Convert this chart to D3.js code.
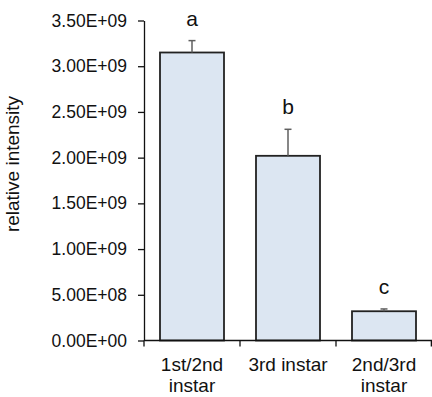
<!DOCTYPE html>
<html>
<head>
<meta charset="utf-8">
<script src="https://cdn.jsdelivr.net/npm/d3@7"></script>
<style>
  html, body { margin: 0; padding: 0; background: #fff; }
  svg { display: block; font-family: "Liberation Sans", Arial, Helvetica, sans-serif; }
</style>
</head>
<body>
<svg id="chart" width="432" height="397"></svg>
<script>
// Instar groups (two-line labels), mean relative intensity, upper error, significance letters
const groups = ["1st/2nd\ninstar", "3rd instar", "2nd/3rd\ninstar"];
const means = [3.15e9, 2.02e9, 0.32e9];
const errors = [0.13e9, 0.29e9, 0.025e9];
const letters = ["a", "b", "c"];
const yTicks = [0, 0.5e9, 1.0e9, 1.5e9, 2.0e9, 2.5e9, 3.0e9, 3.5e9];

const svg = d3.select("#chart");
const plotL = 144, plotR = 432, plotT = 20.5, plotB = 340.5;

const x = d3.scaleBand()
  .domain(groups)
  .range([plotL, plotR])
  .paddingInner(1 / 3)
  .paddingOuter(1 / 6);

const y = d3.scaleLinear()
  .domain([0, 3.5e9])
  .range([plotB, plotT]);

// Excel-style scientific notation, e.g. 3.50E+09
const sci = v => {
  const [m, e] = d3.format(".2e")(v).split("e");
  const sign = e[0] === "-" ? "-" : "+";
  const digits = e.replace(/[+-]/, "").padStart(2, "0");
  return `${m}E${sign}${digits}`;
};

// Y axis
const yAxis = svg.append("g")
  .attr("transform", `translate(${plotL},0)`)
  .call(d3.axisLeft(y).tickValues(yTicks).tickFormat(sci).tickSize(6).tickPadding(11).tickSizeOuter(0));
yAxis.select(".domain").attr("stroke", "#111").attr("stroke-width", 1.3);
yAxis.selectAll(".tick line").attr("stroke", "#111").attr("stroke-width", 1.3);
yAxis.selectAll(".tick text")
  .attr("fill", "#111")
  .style("font-size", "17.5px")
  .style("font-family", "'Liberation Sans', Arial, sans-serif");

// Y axis title
svg.append("text")
  .attr("transform", `translate(19,164) rotate(-90)`)
  .attr("text-anchor", "middle")
  .attr("fill", "#111")
  .style("font-size", "19px")
  .text("relative intensity");

// Bars
svg.append("g").selectAll("rect")
  .data(groups)
  .join("rect")
  .attr("x", d => x(d))
  .attr("y", (d, i) => y(means[i]))
  .attr("width", x.bandwidth())
  .attr("height", (d, i) => y(0) - y(means[i]))
  .attr("fill", "#DCE6F2")
  .attr("stroke", "#222")
  .attr("stroke-width", 1.8);

// Upper error whiskers with caps
const err = svg.append("g").attr("stroke", "#5f5f5f").attr("stroke-width", 1.5);
groups.forEach((g, i) => {
  const cx = x(g) + x.bandwidth() / 2;
  err.append("line")
    .attr("x1", cx).attr("x2", cx)
    .attr("y1", y(means[i])).attr("y2", y(means[i] + errors[i]));
  err.append("line")
    .attr("x1", cx - 3.5).attr("x2", cx + 3.5)
    .attr("y1", y(means[i] + errors[i])).attr("y2", y(means[i] + errors[i]));
});

// Significance letters above each whisker
svg.append("g").selectAll("text")
  .data(groups)
  .join("text")
  .attr("x", d => x(d) + x.bandwidth() / 2)
  .attr("y", (d, i) => y(means[i] + errors[i]) - 15)
  .attr("text-anchor", "middle")
  .attr("fill", "#111")
  .style("font-size", "21px")
  .text((d, i) => letters[i]);

// X axis line with ticks at group boundaries
const xg = svg.append("g").attr("stroke", "#111").attr("stroke-width", 1.3);
xg.append("line").attr("x1", plotL).attr("x2", plotR).attr("y1", plotB).attr("y2", plotB);
const step = x.step();
const bounds = groups.map(g => x(g) + x.bandwidth() / 2 - step / 2)
  .concat([x(groups[groups.length - 1]) + x.bandwidth() / 2 + step / 2]);
bounds.forEach(b => {
  const bx = Math.min(b, plotR - 0.65);
  xg.append("line").attr("x1", bx).attr("x2", bx).attr("y1", plotB).attr("y2", plotB + 6);
});

// Category labels
const lbl = svg.append("g").selectAll("text")
  .data(groups)
  .join("text")
  .attr("x", d => x(d) + x.bandwidth() / 2)
  .attr("y", 370.5)
  .attr("text-anchor", "middle")
  .attr("fill", "#111")
  .style("font-size", "19px");
lbl.each(function(d) {
  const t = d3.select(this);
  d.split("\n").forEach((line, k) => {
    t.append("tspan")
      .attr("x", x(d) + x.bandwidth() / 2)
      .attr("dy", k === 0 ? 0 : 21.5)
      .text(line);
  });
});
</script>
</body>
</html>
